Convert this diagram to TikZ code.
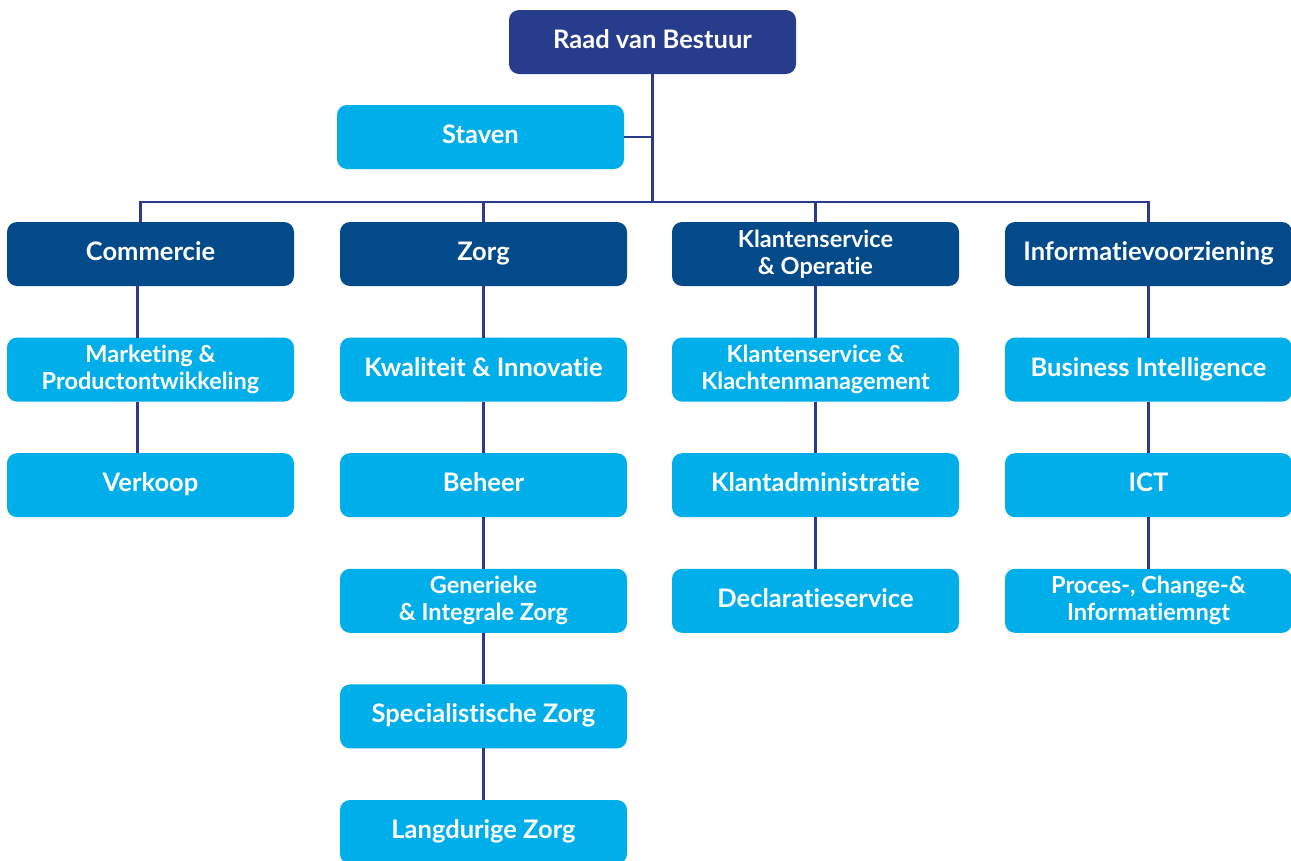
\documentclass[tikz,border=0pt]{standalone}
\usepackage{fontspec}
\setmainfont{Lato}[Ligatures=NoCommon]
\usetikzlibrary{positioning}
\definecolor{raadblue}{HTML}{283C8C}
\definecolor{divblue}{HTML}{034A8A}
\definecolor{unitblue}{HTML}{00AEE9}
\definecolor{lineblue}{HTML}{2B3A8B}
\begin{document}
\begin{tikzpicture}[x=1pt, y=1pt,
    box/.style={rounded corners=10pt, minimum width=287pt, minimum height=64pt, align=center, text=white, inner sep=0pt, outer sep=0pt, text height=18pt, text depth=5pt, font=\fontsize{25.5}{28}\selectfont\bfseries},
    top/.style={box, fill=raadblue},
    division/.style={box, fill=divblue},
    unit/.style={box, fill=unitblue},
    twoline/.style={text height=, text depth=, font=\fontsize{23.5}{27}\selectfont\bfseries},
    link/.style={draw=lineblue, line width=2.5pt}]
        \useasboundingbox (0,0) rectangle (1291,-860);

        \node[top] (raad) at (652.5,-42) {Raad van Bestuur};
        \node[unit] (staven) [below left=31pt and -115pt of raad] {Staven};

        % directies
        \node[division] (zorg) [below=53pt of staven, xshift=3pt] {Zorg};
        \node[division] (comm) [left=46pt of zorg] {Commercie};
        \node[division, twoline] (klant) [right=45pt of zorg] {Klantenservice\\\& Operatie};
        \node[division] (info) [right=46pt of klant] {Informatievoorziening};

        % afdelingen
        \node[unit, twoline] (mark) [below=51.6pt of comm] {Marketing \&\\Productontwikkeling};
        \node[unit] (verk) [below=51.6pt of mark] {Verkoop};

        \node[unit] (kwal) [below=51.6pt of zorg] {Kwaliteit \& Innovatie};
        \node[unit] (beh) [below=51.6pt of kwal] {Beheer};
        \node[unit, twoline] (gen) [below=51.6pt of beh] {Generieke\\\& Integrale Zorg};
        \node[unit] (spec) [below=51.6pt of gen] {Specialistische Zorg};
        \node[unit] (lang) [below=51.6pt of spec] {Langdurige Zorg};

        \node[unit, twoline] (kbeh) [below=51.6pt of klant] {Klantenservice \&\\Klachtenmanagement};
        \node[unit] (kadm) [below=51.6pt of kbeh] {Klantadministratie};
        \node[unit] (decl) [below=51.6pt of kadm] {Declaratieservice};

        \node[unit] (bi) [below=51.6pt of info] {Business Intelligence};
        \node[unit] (ict) [below=51.6pt of bi] {ICT};
        \node[unit, twoline] (proc) [below=51.6pt of ict] {Proces-, Change-\&\\Informatiemngt};

        \draw[link] (raad.south) -- ++(0,-128) coordinate (hub);
        \draw[link] (staven.east) -- (staven.east -| hub);
        \draw[link] ([xshift=-10pt]comm.north) |- (hub) -| (info.north);
        \draw[link] (zorg.north) -- (zorg.north |- hub);
        \draw[link] (klant.north) -- (klant.north |- hub);

        \draw[link] ([xshift=-13pt]comm.south) -- ([xshift=-13pt]mark.north);
        \draw[link] ([xshift=-13pt]mark.south) -- ([xshift=-13pt]verk.north);
        \foreach \a/\b in {zorg/kwal, kwal/beh, beh/gen, gen/spec, spec/lang, klant/kbeh, kbeh/kadm, kadm/decl, info/bi, bi/ict, ict/proc}
            \draw[link] (\a.south) -- (\b.north);
    \end{tikzpicture}
\end{document}
